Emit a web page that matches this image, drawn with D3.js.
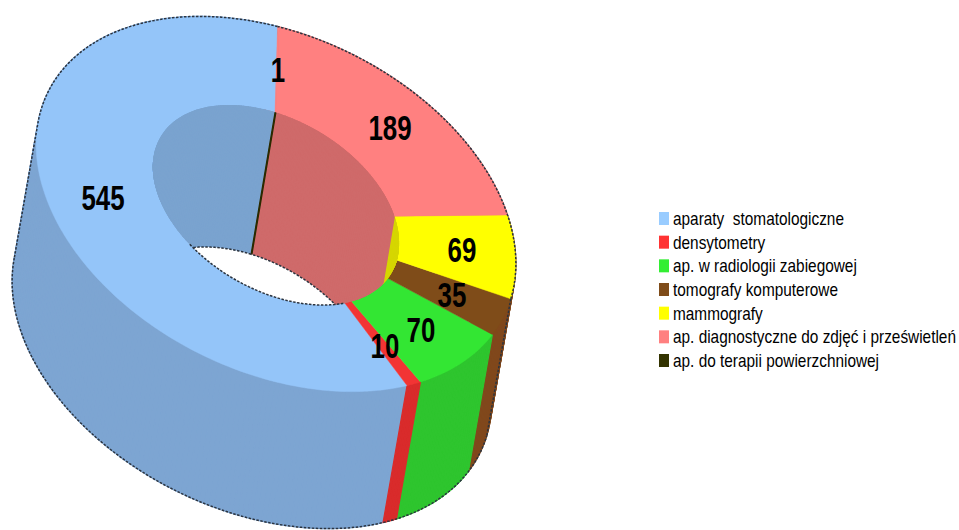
<!DOCTYPE html>
<html>
<head>
<meta charset="utf-8">
<title>Aparaty</title>
<script src="https://cdn.jsdelivr.net/npm/d3@7"></script>
<style>
  body { margin: 0; background: #fff; }
  text { fill: #000; font-family: "Liberation Sans", Arial, sans-serif; }
  .legend text { font-size: 18px; }
  .label { font-size: 35px; font-weight: bold; text-anchor: middle; }
  .rim { fill: none; stroke: #2b3440; stroke-width: 1.5; stroke-dasharray: 2.5 1.5; }
</style>
</head>
<body>
<svg id="chart" width="959" height="530"></svg>
<script>
const categories = ["aparaty  stomatologiczne", "densytometry", "ap. w radiologii zabiegowej", "tomografy komputerowe", "mammografy", "ap. diagnostyczne do zdjęć i prześwietleń", "ap. do terapii powierzchniowej"]
const values = [545, 10, 70, 35, 69, 189, 1]
const legendColors = ["#99ccff", "#ff3333", "#33ee33", "#7f4c19", "#ffff00", "#ff8080", "#333300"]
// the 1 unit slice does not show on the top face, only inside the hole
const faceColors = ["#94c5f9", "#f23434", "#33e633", "#7f4c19", "#ffff00", "#ff8080", "#ff8080"]
// yellow wall is only a sliver next to the brown one, the reference shows brown there
const wallColors = ["#7da5d2", "#d92b2b", "#2ec52e", "#80481c", "#80481c", "#cf6a6a", "#2a2a00"]
const innerColors = ["#7aa3cf", "#d92b2b", "#2ec52e", "#6a3f14", "#d6d600", "#cf6a6a", "#2a2a00"]

// layout, fitted by eye. degrees for tilt and start
const outerTop = { cx: 276, cy: 204, a: 254, b: 168, tilt: 26, start: 17.5 }
const outerBot = { cx: 252, cy: 341, a: 254, b: 168, tilt: 26, start: 17.5 }
const innerTop = { cx: 276, cy: 205, a: 134, b: 85, tilt: 30.6, start: 21 }
const innerBot = { cx: 252, cy: 347, a: 134, b: 85, tilt: 30.6, start: 21 }
const labelPos = [[103, 210], [385, 358], [421, 342], [452, 307], [462, 262], [390, 140], [278, 82]]

const svg = d3.select("#chart")
const slices = d3.pie().sort(null).value(d => d)(values)
const line = d3.line()
const FULL = 2 * Math.PI
const STEP = 0.02
const rad = d => d * Math.PI / 180
const angleOf = d3.scaleLinear().domain([0, d3.sum(values)]).range([0, FULL])

// pie angle goes counter clockwise on screen, from the top of the tilted ellipse
function point(ring, angle) {
  const u = angle + rad(ring.start)
  const t = rad(ring.tilt)
  const x = -ring.a * Math.sin(u)
  const y = -ring.b * Math.cos(u)
  return [ring.cx + x * Math.cos(t) - y * Math.sin(t),
          ring.cy + x * Math.sin(t) + y * Math.cos(t)]
}

function arcPoints(ring, a0, a1) {
  const n = Math.max(2, Math.ceil(Math.abs(a1 - a0) / STEP))
  return d3.range(n + 1).map(i => point(ring, a0 + (a1 - a0) * i / n))
}

function band(ringA, ringB, a0, a1) {
  return line(arcPoints(ringA, a0, a1).concat(arcPoints(ringB, a0, a1).reverse())) + "Z"
}

// a wall is swept in short pieces, one long band would leave out the silhouette corners.
// each piece gets its own path, opposite windings would cancel inside one path.
// the stroke closes the seams between pieces
function drawWalls(parent, ringA, ringB, list, colors) {
  parent.selectAll("g.piece").data(list).join("g")
    .attr("class", "piece")
    .attr("fill", d => colors[d.index])
    .attr("stroke", d => colors[d.index])
    .attr("stroke-width", 1.2)
    .selectAll("path").data(d => {
      const n = Math.max(1, Math.ceil((d.endAngle - d.startAngle) / STEP))
      return d3.range(n).map(i => [d.startAngle + (d.endAngle - d.startAngle) * i / n,
                                   d.startAngle + (d.endAngle - d.startAngle) * (i + 1) / n])
    }).join("path")
    .attr("d", p => band(ringA, ringB, p[0], p[1]))
}

// outer walls, back ones first
const midY = d => point(outerTop, (d.startAngle + d.endAngle) / 2)[1]
drawWalls(svg.append("g"), outerTop, outerBot, slices.slice().sort((p, q) => midY(p) - midY(q)), wallColors)

// top faces
svg.append("g").selectAll("path").data(slices).join("path")
  .attr("d", d => band(outerTop, innerTop, d.startAngle, d.endAngle))
  .attr("fill", d => faceColors[d.index])
  .attr("stroke", d => faceColors[d.index])
  .attr("stroke-width", 0.5)

// hole: inner walls seen through the top rim, white where the bottom rim opens
svg.append("clipPath").attr("id", "hole")
  .append("path").attr("d", line(arcPoints(innerTop, 0, FULL)) + "Z")
const hole = svg.append("g").attr("clip-path", "url(#hole)")
drawWalls(hole, innerTop, innerBot, slices, innerColors)
hole.append("path")
  .attr("d", line(arcPoints(innerBot, 0, FULL)) + "Z")
  .attr("fill", "#fff")
hole.append("path").attr("class", "rim").attr("d", line(arcPoints(innerBot, 0, FULL)) + "Z")

// dashed rims, given in cumulated units. 211 is where the left silhouette leaves the top rim
const rims = svg.append("g")
rims.append("path").attr("class", "rim").attr("d", line(arcPoints(outerTop, angleOf(660), FULL)))
rims.append("path").attr("class", "rim").attr("d", line(arcPoints(outerTop, 0, angleOf(211))))
rims.append("path").attr("class", "rim").attr("d", line(arcPoints(outerBot, angleOf(211), angleOf(660))))
rims.append("path").attr("class", "rim").attr("d", line(arcPoints(innerTop, angleOf(345), angleOf(545))))
rims.append("path").attr("class", "rim").attr("d", line([point(outerTop, angleOf(211)), point(outerBot, angleOf(211))]))
rims.append("path").attr("class", "rim").attr("d", line([point(outerTop, angleOf(660)), point(outerBot, angleOf(660))]))

svg.append("g").selectAll("text").data(values).join("text")
  .attr("class", "label")
  .attr("transform", (d, i) => `translate(${labelPos[i][0]},${labelPos[i][1]}) scale(0.74,1)`)
  .text(d => d)

const legendY = d3.scalePoint().domain(categories).range([218.5, 360.5])
const legend = svg.append("g").attr("class", "legend")
legend.selectAll("rect").data(categories).join("rect")
  .attr("x", 659).attr("y", d => legendY(d) - 6.5)
  .attr("width", 10).attr("height", 13)
  .attr("fill", (d, i) => legendColors[i])
legend.selectAll("text").data(categories).join("text")
  .attr("transform", d => `translate(673,${legendY(d) + 6.5}) scale(0.855,1)`)
  .style("white-space", "pre")
  .text(d => d)
</script>
</body>
</html>
